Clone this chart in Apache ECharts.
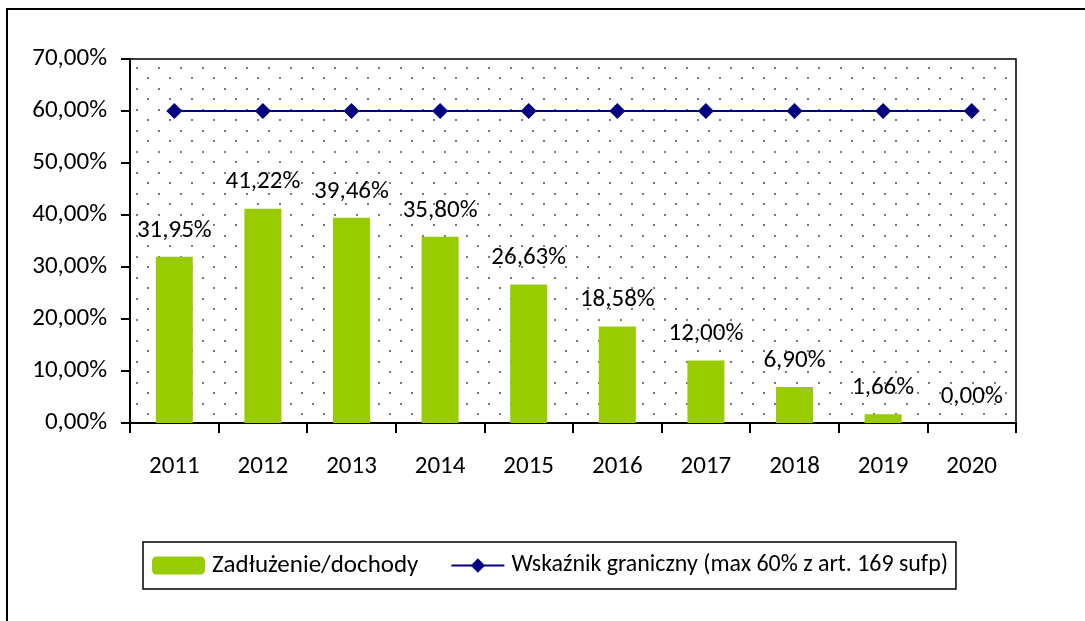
<!DOCTYPE html>
<html lang="pl">
<head>
    <meta charset="UTF-8">
    <title>Zadłużenie/dochody</title>
    <script src="https://cdn.jsdelivr.net/npm/echarts@6/dist/echarts.min.js"></script>
    <style>
        html, body { margin: 0; padding: 0; background: #fff; }
    </style>
</head>
<body>
<div id="chart" style="width:1085px;height:621px"></div>
<script>
    // dane z wykresu
    var years = ['2011', '2012', '2013', '2014', '2015', '2016', '2017', '2018', '2019', '2020']
    var zadluzenie = [31.95, 41.22, 39.46, 35.80, 26.63, 18.58, 12.00, 6.90, 1.66, 0.00]
    var wskaznik = [60, 60, 60, 60, 60, 60, 60, 60, 60, 60]

    var FONT = 'Carlito, "Open Sans", sans-serif'
    var FS = 25

    // kropkowane tło obszaru wykresu
    function dotPattern() {
        var c = document.createElement('canvas')
        c.width = 22
        c.height = 21
        var ctx = c.getContext('2d')
        ctx.fillStyle = '#fff'
        ctx.fillRect(0, 0, 22, 21)
        ctx.fillStyle = '#7a7a7a'
        ctx.fillRect(4, 4, 2, 2)
        ctx.fillRect(15, 14, 2, 2)
        return c
    }

    function pct(v) {
        return v.toFixed(2).replace('.', ',') + '%'
    }

    var myChart = echarts.init(document.getElementById('chart'))
    myChart.setOption({
        animation: false,
        backgroundColor: '#fff',
        graphic: [{
            type: 'rect',
            shape: { x: 7, y: 9, width: 2000, height: 2000 },
            style: { fill: 'none', stroke: '#000', lineWidth: 2 },
            silent: true
        }],
        grid: {
            left: 130,
            top: 59,
            right: 69,
            bottom: 198,
            show: true,
            backgroundColor: { image: dotPattern(), repeat: 'repeat' },
            borderColor: '#000',
            borderWidth: 1.5
        },
        legend: {
            left: 143,
            top: 542,
            padding: [11, 8, 11, 9],
            borderColor: '#000',
            borderWidth: 1.5,
            itemWidth: 53,
            itemHeight: 18,
            itemGap: 32,
            textStyle: { fontFamily: FONT, fontSize: FS, color: '#000' },
            data: [
                { name: 'Zadłużenie/dochody', textStyle: { padding: [0, 0, 0, 2] } },
                { name: 'Wskaźnik graniczny (max 60% z art. 169 sufp)', textStyle: { fontSize: 23.9, padding: [0, 0, 0, 2] } }
            ]
        },
        xAxis: {
            type: 'category',
            data: years,
            axisLine: { lineStyle: { color: '#000', width: 2 } },
            axisTick: { show: true, length: 10, alignWithLabel: false, lineStyle: { color: '#000', width: 2 } },
            axisLabel: { margin: 31, fontFamily: FONT, fontSize: FS, color: '#000' },
            splitLine: { show: false }
        },
        yAxis: {
            type: 'value',
            min: 0,
            max: 70,
            interval: 10,
            axisLine: { show: true, lineStyle: { color: '#000', width: 2 } },
            axisTick: { show: true, length: 9, lineStyle: { color: '#000', width: 2 } },
            axisLabel: { margin: 23, fontFamily: FONT, fontSize: FS, color: '#000', formatter: pct },
            splitLine: { show: false }
        },
        series: [{
            name: 'Zadłużenie/dochody',
            type: 'bar',
            data: zadluzenie,
            barWidth: 37,
            itemStyle: { color: '#99cc00' },
            label: {
                show: true,
                position: 'top',
                distance: 14,
                fontFamily: FONT,
                fontSize: FS,
                color: '#000',
                formatter: function (p) { return pct(p.value) }
            }
        }, {
            name: 'Wskaźnik graniczny (max 60% z art. 169 sufp)',
            type: 'line',
            data: wskaznik,
            symbol: 'diamond',
            symbolSize: 16,
            itemStyle: { color: '#000080' },
            lineStyle: { color: '#000080', width: 2 },
            z: 3
        }]
    })
</script>
</body>
</html>
